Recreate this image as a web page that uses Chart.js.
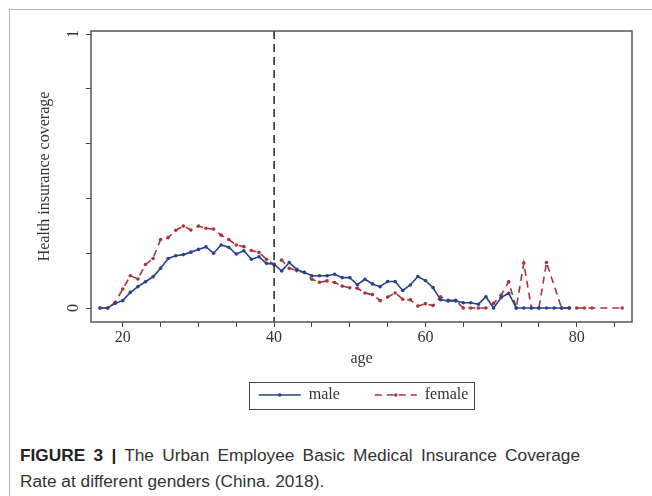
<!DOCTYPE html>
<html>
<head>
<meta charset="utf-8">
<script src="https://cdn.jsdelivr.net/npm/chart.js@4.4.1/dist/chart.umd.min.js"></script>
<style>
  html, body { margin: 0; padding: 0; background: #fff; }
  body { width: 652px; height: 496px; position: relative; overflow: hidden; }
  .frame { position: absolute; left: 9px; top: 9px; width: 700px; height: 600px;
           border-top: 1px solid #b5b5b5; border-left: 1px solid #b5b5b5; }
  #chart { position: absolute; left: 0; top: 0; }
  .caption { position: absolute; left: 20px; top: 442px; width: 560px;
             font-family: "Liberation Sans", Arial, sans-serif; font-size: 17.3px;
             line-height: 26px; color: #333; text-align: justify; }
  .caption b { color: #222; }
</style>
</head>
<body>
<div class="frame"></div>
<canvas id="chart" width="652" height="430"></canvas>
<div class="caption"><b>FIGURE 3 |</b> The Urban Employee Basic Medical Insurance Coverage Rate at different genders (China. 2018).</div>
<script>
// ages 17..86
const ages = [17, 18, 19, 20, 21, 22, 23, 24, 25, 26, 27, 28, 29, 30, 31, 32, 33, 34, 35, 36,
  37, 38, 39, 40, 41, 42, 43, 44, 45, 46, 47, 48, 49, 50, 51, 52, 53, 54, 55, 56,
  57, 58, 59, 60, 61, 62, 63, 64, 65, 66, 67, 68, 69, 70, 71, 72, 73, 74, 75, 76,
  77, 78, 79, 80, 81, 82, 83, 84, 85, 86];

const male = [0, 0, 0.017, 0.027, 0.057, 0.078, 0.096, 0.114, 0.145, 0.181, 0.191, 0.195, 0.204, 0.214, 0.223, 0.2, 0.23, 0.222, 0.197, 0.209,
  0.178, 0.187, 0.163, 0.16, 0.135, 0.166, 0.141, 0.13, 0.118, 0.118, 0.118, 0.123, 0.111, 0.111, 0.085, 0.105, 0.088, 0.078, 0.097, 0.097,
  0.064, 0.084, 0.115, 0.1, 0.075, 0.03, 0.026, 0.026, 0.019, 0.019, 0.014, 0.041, 0, 0.038, 0.054, 0, 0, 0, 0, 0,
  0, 0, 0, null, null, null, null, null, null, null];

const female = [0, 0, 0.021, 0.069, 0.118, 0.106, 0.159, 0.181, 0.25, 0.257, 0.284, 0.299, 0.285, 0.299, 0.291, 0.288, 0.266, 0.25, 0.23, 0.224,
  0.21, 0.203, 0.178, 0.158, 0.175, 0.145, 0.136, 0.13, 0.105, 0.094, 0.099, 0.093, 0.08, 0.074, 0.072, 0.055, 0.049, 0.027, 0.04, 0.055,
  0.032, 0.03, 0.007, 0.016, 0.009, 0.041, 0.028, 0.028, 0, 0, 0, 0, 0.017, 0.047, 0.096, 0, 0.164, 0, 0, 0.166,
  null, 0, 0, 0, 0, 0, null, null, null, 0];

const xTicks = [20, 25, 30, 35, 40, 45, 50, 55, 60, 65, 70, 75, 80, 85];
const xLabels = [20, 40, 60, 80];
const yTicks = [0, 0.2, 0.4, 0.6, 0.8, 1];
const yLabels = [0, 1];
const cutoffAge = 40;

const serif = "'Liberation Serif', 'Times New Roman', serif";
const maleColor = '#27438c';
const femaleColor = '#a9333f';

const toPoints = (vals) => ages.map((a, i) => ({ x: a, y: vals[i] }));

const framePlugin = {
  id: 'frame',
  afterLayout(chart) {
    // put the legend where the original figure has it
    const lg = chart.legend;
    const h = lg.bottom - lg.top;
    lg.top = 352; lg.bottom = lg.top + h;
    lg.left += 30; lg.right += 30;
  },
  afterDraw(chart) {
    const { ctx, chartArea: a, scales } = chart;
    ctx.save();
    // vertical cutoff line
    const x40 = scales.x.getPixelForValue(cutoffAge);
    ctx.strokeStyle = '#222';
    ctx.lineWidth = 1.5;
    ctx.setLineDash([8, 5]);
    ctx.beginPath();
    ctx.moveTo(x40, a.top);
    ctx.lineTo(x40, a.bottom);
    ctx.stroke();
    // plot frame
    ctx.setLineDash([]);
    ctx.strokeStyle = '#555';
    ctx.lineWidth = 1.5;
    ctx.strokeRect(a.left, a.top, a.right - a.left, a.bottom - a.top);
    // rotated y tick labels
    ctx.fillStyle = '#333';
    ctx.font = "16px " + serif;
    ctx.textAlign = 'center';
    ctx.textBaseline = 'middle';
    yLabels.forEach(v => {
      ctx.save();
      ctx.translate(74, scales.y.getPixelForValue(v));
      ctx.rotate(-Math.PI / 2);
      ctx.fillText(String(v), 0, 0);
      ctx.restore();
    });
    // legend box and markers
    const hb = chart.legend.legendHitBoxes;
    if (hb && hb.length) {
      const last = hb[hb.length - 1];
      const cy = hb[0].top + hb[0].height / 2;
      const l = hb[0].left - 10;
      const r = last.left + last.width + 5;
      ctx.strokeStyle = '#444';
      ctx.lineWidth = 1;
      ctx.strokeRect(Math.round(l) + 0.5, Math.round(cy - 13.5) + 0.5, Math.round(r - l), 27);
      [maleColor, femaleColor].forEach((c, i) => {
        ctx.fillStyle = c;
        ctx.beginPath();
        ctx.arc(hb[i].left + 21, cy, 1.8, 0, Math.PI * 2);
        ctx.fill();
      });
    }
    ctx.restore();
  }
};

new Chart(document.getElementById('chart').getContext('2d'), {
  type: 'line',
  data: {
    datasets: [{
      label: 'male',
      data: toPoints(male),
      borderColor: maleColor,
      backgroundColor: maleColor,
      borderWidth: 1.6,
      pointRadius: 1.8,
      pointBorderWidth: 0,
      spanGaps: true,
      tension: 0
    }, {
      label: 'female',
      data: toPoints(female),
      borderColor: femaleColor,
      backgroundColor: femaleColor,
      borderWidth: 1.6,
      borderDash: [7, 5],
      pointRadius: 1.8,
      pointBorderWidth: 0,
      spanGaps: true,
      tension: 0
    }]
  },
  options: {
    responsive: false,
    animation: false,
    devicePixelRatio: 1,
    layout: { padding: { left: 35, right: 20, top: 31, bottom: 1 } },
    scales: {
      x: {
        type: 'linear',
        min: 15.8,
        max: 87.3,
        afterBuildTicks: (s) => { s.ticks = xTicks.map(v => ({ value: v })); },
        afterFit: (s) => { s.height = 46; },
        grid: { drawOnChartArea: false, drawTicks: true, tickLength: 5, tickColor: '#444', tickWidth: 1 },
        border: { display: false },
        ticks: {
          color: '#333', padding: 1, maxRotation: 0, autoSkip: false,
          font: { family: serif, size: 16 },
          callback: (v) => xLabels.includes(v) ? String(v) : ''
        },
        title: { display: true, text: 'age', color: '#333', padding: 0, font: { family: serif, size: 16 } }
      },
      y: {
        type: 'linear',
        min: -0.051,
        max: 1.011,
        afterBuildTicks: (s) => { s.ticks = yTicks.map(v => ({ value: v })); },
        afterFit: (s) => { s.width = 56; },
        grid: { drawOnChartArea: false, drawTicks: true, tickLength: 5, tickColor: '#444', tickWidth: 1 },
        border: { display: false },
        ticks: { display: true, callback: () => '', font: { family: serif, size: 16 } },
        title: { display: true, text: 'Health insurance coverage', color: '#333', padding: 0, font: { family: serif, size: 16 } }
      }
    },
    plugins: {
      legend: {
        position: 'bottom',
        labels: {
          usePointStyle: true,
          pointStyleWidth: 42,
          padding: 35,
          color: '#333',
          font: { family: serif, size: 16 },
          generateLabels: (chart) => chart.data.datasets.map((ds, i) => ({
            text: ds.label,
            fillStyle: ds.borderColor,
            strokeStyle: ds.borderColor,
            lineWidth: 1.6,
            lineDash: ds.borderDash || [],
            pointStyle: 'line',
            fontColor: '#333',
            hidden: false,
            datasetIndex: i
          }))
        }
      },
      tooltip: { enabled: false }
    }
  },
  plugins: [framePlugin]
});
</script>
</body>
</html>
